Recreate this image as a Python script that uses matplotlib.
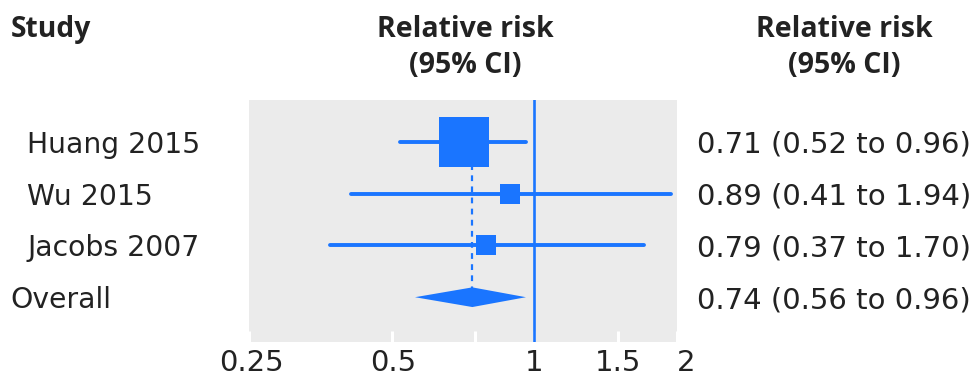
import matplotlib
matplotlib.use('Agg')
import matplotlib.pyplot as plt
import numpy as np
from matplotlib.transforms import ScaledTranslation, blended_transform_factory
from matplotlib.patches import Polygon

# ---- data ----
studies = ['Huang 2015', 'Wu 2015', 'Jacobs 2007']
rr = [0.71, 0.89, 0.79]
ci_lo = [0.52, 0.41, 0.37]
ci_hi = [0.96, 1.94, 1.70]
weights = [75.5, 12.0, 12.5]
overall_label = 'Overall'
overall_rr = 0.74
overall_lo = 0.56
overall_hi = 0.96
xticks = [0.25, 0.5, 0.75, 1, 1.5, 2]
xticklabels = ['0.25', '0.5', '', '1', '1.5', '2']
header_study = 'Study'
header_rr = ['Relative risk', '(95% CI)']

BLUE = '#1a75ff'
TEXT = '#222222'
BODY_FONT = ['DejaVu Sans']
HEAD_FONT = ['Open Sans', 'DejaVu Sans']

W, H = 980, 380
fig = plt.figure(figsize=(W / 100, H / 100), dpi=100)
ax = fig.add_axes([249 / W, 38 / H, 428 / W, 242 / H])
ax.set_xscale('log')
ax.set_xlim(0.25, 2)
ax.set_ylim(3.865, -0.808)
ax.set_facecolor('#ebebeb')
for s in ax.spines.values():
    s.set_visible(False)

# reference line at 1
ax.axvline(1, color=BLUE, lw=1.9, zorder=2)

# dashed line at overall estimate
n = len(studies)
ax.plot([overall_rr, overall_rr], [0, n], color=BLUE, lw=1.6,
        linestyle=(0, (2.6, 2.4)), zorder=1)

# studies
for i, (r, lo, hi, w) in enumerate(zip(rr, ci_lo, ci_hi, weights)):
    ax.plot([lo, hi], [i, i], color=BLUE, lw=2.8, solid_capstyle='round', zorder=3)
    ax.plot([r], [i], marker='s', color=BLUE, markersize=4.14 * np.sqrt(w),
            markeredgewidth=0, zorder=4)

# overall diamond
dh = 0.19
diamond = Polygon([[overall_lo, n], [overall_rr, n - dh], [overall_hi, n],
                   [overall_rr, n + dh]], closed=True, facecolor=BLUE,
                  edgecolor='none', zorder=4)
ax.add_patch(diamond)

# ticks
ax.set_yticks([])
ax.set_xticks(xticks)
ax.xaxis.set_minor_locator(matplotlib.ticker.NullLocator())
ax.set_xticklabels(xticklabels)
ax.tick_params(axis='x', direction='in', length=8, width=2.2, color='white',
               pad=5, labelsize=21, labelcolor=TEXT)
offsets_px = [2, 2, 0, 0, 0, 9]
for lab, dx in zip(ax.get_xticklabels(), offsets_px):
    lab.set_fontfamily(BODY_FONT)
    lab.set_transform(lab.get_transform() + ScaledTranslation(dx / 100, 0, fig.dpi_scale_trans))

# row labels (baseline ~11 px below row centre)
base_off = ScaledTranslation(0, -11 / 100, fig.dpi_scale_trans)
tr_left = blended_transform_factory(fig.transFigure, ax.transData) + base_off
for i, s in enumerate(studies):
    fig.text(27 / W, i, s, transform=tr_left, ha='left', va='baseline',
             fontsize=20.3, family=BODY_FONT, color=TEXT)
fig.text(10 / W, n, overall_label, transform=tr_left, ha='left', va='baseline',
         fontsize=20.3, family=BODY_FONT, color=TEXT)

for i, (r, lo, hi) in enumerate(zip(rr, ci_lo, ci_hi)):
    fig.text(697 / W, i, f'{r:.2f} ({lo:.2f} to {hi:.2f})', transform=tr_left,
             ha='left', va='baseline', fontsize=21, family=BODY_FONT, color=TEXT)
fig.text(697 / W, n, f'{overall_rr:.2f} ({overall_lo:.2f} to {overall_hi:.2f})',
         transform=tr_left, ha='left', va='baseline', fontsize=21,
         family=BODY_FONT, color=TEXT)

# headers
fig.text(11 / W, 1 - 37 / H, header_study, ha='left', va='baseline', fontsize=20.3,
         fontweight='bold', family=HEAD_FONT, color=TEXT)
for xc in (465, 844):
    fig.text(xc / W, 1 - 37 / H, header_rr[0], ha='center', va='baseline',
             fontsize=20.5, fontweight='bold', family=HEAD_FONT, color=TEXT)
    fig.text(xc / W, 1 - 73 / H, header_rr[1], ha='center', va='baseline',
             fontsize=20.5, fontweight='bold', family=HEAD_FONT, color=TEXT)

fig.savefig('out.png', dpi=100, facecolor='white')
